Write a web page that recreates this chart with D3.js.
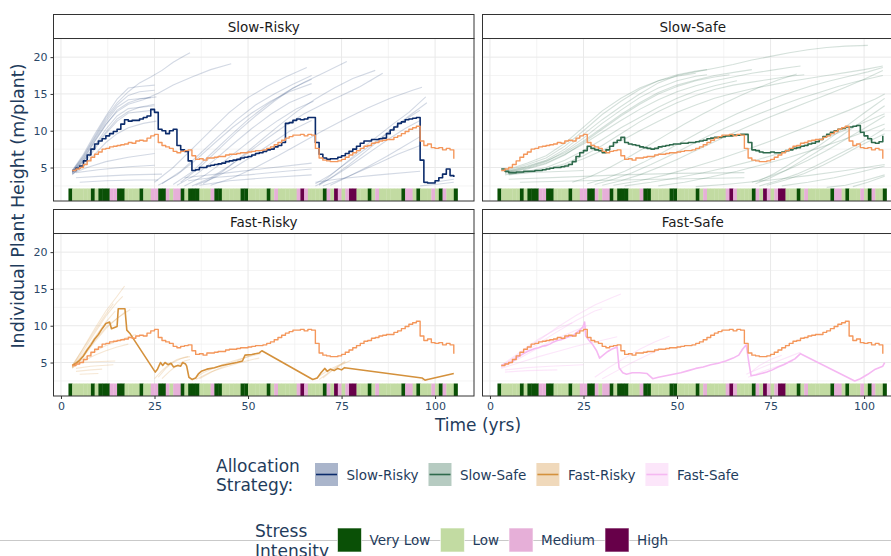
<!DOCTYPE html>
<html>
<head>
<meta charset="utf-8">
<script src="https://cdn.jsdelivr.net/npm/d3@7"></script>
<style>
  html, body { margin: 0; padding: 0; background: #ffffff; overflow: hidden; }
  text { font-family: "DejaVu Sans", "Liberation Sans", sans-serif; }
</style>
</head>
<body>
<svg id="chart" width="891" height="556"></svg>
<script>
// ---------------- data ----------------
const strategies = ["Slow-Risky", "Slow-Safe", "Fast-Risky", "Fast-Safe"];
const strategyColors = ["#0b2b6b", "#2e6a4c", "#d4913c", "#f5b8f2"];
const referenceColor = "#f4975b";

const stressLevels = ["Very Low", "Low", "Medium", "High"];
const stressColors = ["#0a5006", "#c2dba2", "#e6afd8", "#670049"];
// one stress class per year, first record in year 2 (0 = Very Low ... 3 = High)
const stressFirstYear = 2;
const stressByYear = [
  0, 1, 1, 1, 1, 1, 0, 1, 0, 0, 0, 2, 2, 0, 0, 1, 1, 1, 1, 0,
  1, 1, 2, 2, 0, 0, 2, 1, 2, 2, 0, 1, 0, 0, 0, 1, 1, 1, 2, 0,
  0, 1, 1, 1, 1, 1, 0, 0, 1, 1, 1, 1, 1, 0, 1, 2, 1, 1, 1, 1,
  1, 2, 3, 2, 1, 1, 1, 1, 0, 2, 1, 3, 2, 1, 2, 3, 3, 1, 1, 1,
  0, 1, 2, 1, 1, 1, 1, 1, 1, 0, 2, 2, 1, 0, 1, 1, 1, 2, 1, 0,
  2, 1, 1, 0
];

// yearly series start at year 3 and end at year 105
const firstYear = 3;
const referenceHeight = [
  4.6, 4.8, 5.0, 5.4, 5.9, 6.4, 6.8, 7.1, 7.5, 7.6, 7.8, 7.9, 8.0, 8.1, 8.2, 8.4, 8.3, 8.6, 8.7, 8.6,
  9.0, 9.3, 9.5, 8.4, 8.0, 7.8, 7.6, 7.2, 7.0, 7.2, 7.3, 7.4, 6.6, 6.1, 6.2, 6.0, 6.3, 6.3, 6.4, 6.5,
  6.5, 6.7, 6.8, 6.8, 6.9, 7.0, 7.0, 7.1, 7.2, 7.3, 7.3, 7.4, 7.6, 7.8, 8.1, 8.4, 8.7, 9.0, 9.2, 9.4,
  9.4, 9.5, 9.3, 9.5, 9.4, 7.6, 6.3, 6.0, 5.9, 5.8, 5.8, 5.9, 6.1, 6.4, 6.7, 7.0, 7.3, 7.6, 7.9, 8.0,
  8.3, 8.4, 8.6, 8.7, 8.8, 8.8, 9.1, 9.3, 9.6, 9.9, 10.2, 10.4, 10.6, 8.6, 8.0, 8.2, 7.7, 7.6, 7.7, 7.4,
  7.6, 7.4, 6.2
];
const slowRiskyMean = [
  4.6, 4.9, 5.2, 5.9, 6.7, 7.5, 8.2, 8.6, 8.9, 9.3, 9.6, 9.9, 10.2, 10.9, 11.5, 11.3, 11.4, 11.4, 11.6, 11.8,
  12.0, 12.9, 12.5, 10.2, 10.0, 9.6, 10.0, 10.2, 8.0, 7.4, 7.2, 5.9, 4.6, 4.7, 5.0, 5.0, 5.2, 5.3, 5.4, 5.5,
  5.6, 5.8, 5.9, 6.0, 6.1, 6.3, 6.4, 6.5, 6.7, 6.9, 7.0, 7.2, 7.4, 7.5, 7.8, 8.0, 8.4, 11.0, 11.1, 11.4,
  11.6, 11.5, 11.6, 11.8, 11.8, 8.4, 6.8, 6.3, 6.1, 6.2, 6.2, 6.4, 6.6, 6.9, 7.2, 7.5, 7.9, 8.3, 8.6, 8.6,
  8.8, 8.8, 8.9, 9.0, 9.6, 10.1, 10.5, 11.0, 11.2, 11.5, 11.6, 11.7, 11.8, 6.0, 3.0, 2.9, 2.9, 3.2, 3.6, 4.1,
  4.8, 3.9, 3.7
];
const slowSafeMean = [
  4.8, 4.5, 4.3, 4.3, 4.4, 4.4, 4.5, 4.5, 4.5, 4.6, 4.6, 4.7, 4.8, 4.9, 5.0, 5.0, 5.1, 5.2, 5.4, 5.8,
  6.5, 7.0, 7.3, 7.9, 7.6, 7.4, 7.3, 7.0, 7.4, 7.9, 8.4, 8.7, 9.1, 8.4, 8.2, 8.1, 8.0, 7.8, 7.7, 7.6,
  7.5, 7.6, 7.8, 7.9, 8.0, 8.1, 8.2, 8.2, 8.3, 8.3, 8.4, 8.4, 8.5, 8.6, 8.7, 8.9, 9.0, 9.1, 9.1, 9.2,
  9.3, 9.3, 9.4, 9.4, 9.5, 9.5, 8.4, 7.4, 7.3, 7.1, 7.0, 7.0, 7.1, 7.0, 7.0, 7.1, 7.3, 7.4, 7.6, 7.7,
  7.9, 8.0, 8.2, 8.3, 8.5, 8.8, 9.2, 9.5, 9.8, 10.0, 10.2, 10.3, 10.5, 10.5, 10.6, 10.7, 9.8, 9.3, 8.9, 8.4,
  8.3, 8.5, 9.3
];
// fast strategies: [year, height] records (long gaps where few plants are alive)
const fastRiskyMean = [
  [3,4.6],[4,4.9],[5,5.3],[6,5.9],[7,6.7],[8,7.4],[9,8.2],[10,8.8],[11,9.6],[12,10.3],[13,10.5],[13.5,9.6],
  [14.5,9.8],[15,9.9],[15.3,12.3],[17.1,12.3],[17.6,9.4],[18.5,8.9],[25.2,3.7],[25.8,4.1],[26.6,5.0],[27.2,4.6],
  [27.8,5.0],[28.6,4.7],[29.4,4.9],[30.1,4.4],[31.2,4.6],[32,4.5],[32.5,5.0],[33.3,4.8],[33.6,4.5],[34.2,3.0],
  [35,2.7],[36,2.9],[36.8,3.5],[37.5,3.8],[39,4.1],[41,4.3],[43,4.6],[45,4.8],[47,5.0],[48.5,5.2],[49.2,6.0],
  [51,6.1],[53,6.3],[53.7,6.6],[67.3,2.7],[68.5,2.9],[69.5,3.6],[70.5,4.2],[71.2,3.8],[72,4.1],[73,3.9],
  [74,4.2],[75,4.0],[75.8,4.3],[96.5,2.9],[97.3,2.6],[98,2.7],[105,3.5]
];
const fastSafeMean = [
  [3,4.6],[4,4.8],[5,4.9],[6,5.1],[7,5.6],[8,5.9],[9,6.2],[10,6.5],[11,6.7],[12,6.9],[13,7.0],[14,7.2],
  [15,7.3],[16,7.5],[17,7.8],[18,8.0],[19,8.1],[20,8.3],[21,8.5],[22,8.6],[23,9.0],[24,9.4],[24.8,9.8],
  [25.3,10.5],[25.6,8.6],[26.5,8.0],[27.5,7.4],[28.5,6.6],[29.3,5.6],[30.5,6.1],[31.5,6.5],[32.5,6.8],
  [34,7.1],[34.5,4.3],[35.5,3.6],[36.5,3.4],[38,3.6],[40,3.6],[42,3.5],[43.5,2.8],[45,3.0],[47,3.2],
  [49,3.4],[51,3.6],[53,3.9],[55,4.2],[57,4.4],[59,4.7],[61,4.9],[63,5.2],[65,5.6],[66.5,6.0],[67.5,6.8],
  [68.5,7.4],[69.2,5.0],[69.8,3.2],[71,3.3],[72.5,3.5],[74,3.7],[75.5,4.0],[77,4.4],[78.5,4.7],[80,5.1],
  [81.5,5.5],[83,6.2],[97.5,2.5],[99,2.8],[101,3.4],[103,4.1],[105,4.5],[105.5,5.0]
];

// individual plant trajectories, [year, height]
const slowRiskyPlants = [
  [[3,4.5],[6,6.5],[9,9.0],[12,11.5],[15,13.5],[18,14.8],[21,15.3],[25,15.5]],
  [[3,4.3],[6,6.0],[9,8.5],[12,10.8],[15,12.8],[18,13.8],[21,14.3],[25.5,14.6]],
  [[3,4.4],[6,6.3],[9,8.8],[12,11.2],[15,13.2],[18,14.2],[24,14.5]],
  [[3,4.2],[6,5.8],[9,8.0],[12,10.2],[15,12.0],[18,13.0],[25,13.4]],
  [[3,4.6],[6,6.8],[9,9.5],[12,12.0],[15,14.3],[18,15.8],[21,16.0],[25,16.2]],
  [[3,4.0],[6,5.5],[9,7.5],[12,9.6],[15,11.3],[18,12.4],[25,12.8]],
  [[3,4.5],[6,6.6],[9,9.2],[12,11.8],[15,13.8],[18,15.3],[21,16.5],[24,17.3],[27,18.2],[30,19.3],[33,20.2],[34.5,20.6]],
  [[3,4.3],[6,6.2],[9,8.6],[12,10.9],[15,12.6],[18,13.6],[22,14.2],[26,15.1],[30,16.2],[35,17.3],[40,18.3],[45.5,19.1]],
  [[3,4.1],[6,5.2],[9,6.8],[12,8.4],[15,9.6],[18,10.4],[22,11.0],[25.5,11.3]],
  [[3,4.4],[6,5.9],[9,7.8],[12,9.8],[15,11.6],[18,12.6],[21,13.2],[25,13.6]],
  [[3,4.2],[7,5.0],[12,5.8],[18,6.4],[25,6.9]],
  [[4,3.6],[10,3.8],[18,4.0],[27,4.1]],
  [[5,3.0],[12,3.2],[20,3.3],[26,3.3]],
  [[4,4.3],[10,4.7],[18,5.1],[25,5.3]],
  [[25,3.0],[30,5.0],[35,7.5],[40,10.0],[45,12.5],[50,14.5],[55,16.0],[60,17.3],[65.7,18.6]],
  [[27,2.8],[32,4.5],[37,6.8],[42,9.2],[47,11.5],[52,13.5],[57,15.0],[62,16.3],[67,17.5]],
  [[26,2.6],[31,4.0],[36,6.0],[41,8.3],[46,10.5],[51,12.4],[56,14.0],[61,15.3],[67,16.4]],
  [[30,2.7],[35,4.4],[40,6.8],[45,9.2],[50,11.5],[55,13.5],[60,15.2],[65,16.6],[70,17.8],[76.4,19.4]],
  [[31,2.6],[36,4.0],[41,6.0],[46,8.2],[51,10.3],[56,12.2],[61,13.8],[67,15.1]],
  [[33,2.5],[38,3.8],[43,5.6],[48,7.6],[53,9.6],[58,11.4],[63,13.0],[67.5,14.0]],
  [[35,2.5],[40,3.6],[45,5.2],[50,7.0],[55,8.9],[60,10.7],[65,12.3],[70,13.6],[75,14.8],[80,16.0],[86,17.8]],
  [[36,2.6],[41,3.6],[46,4.9],[51,6.5],[56,8.2],[61,9.9],[67,11.4]],
  [[34,3.2],[40,3.6],[50,4.0],[60,4.5],[67,4.8]],
  [[33,3.6],[45,4.3],[55,4.9],[67,5.6]],
  [[37,2.6],[45,3.2],[55,3.6],[67,4.0]],
  [[32,3.0],[37,5.0],[42,7.4],[47,9.8],[52,12.0],[57,14.0],[62,15.8],[67,17.0]],
  [[38,2.8],[43,4.4],[48,6.4],[53,8.5],[58,10.6],[63,12.6],[68,14.3],[73,15.8],[78,17.1],[84,18.2]],
  [[40,2.6],[46,3.6],[52,5.0],[58,6.6],[64,8.3],[70,10.0],[76,11.6],[82,13.1],[88,14.4],[94,15.5],[96.5,15.9]],
  [[68,2.8],[72,4.0],[76,5.5],[80,7.0],[84,8.5],[88,10.0],[92,11.5],[96,12.8]],
  [[68,2.5],[72,3.5],[76,4.8],[80,6.2],[84,7.6],[88,9.0],[92,10.3],[96,11.4]],
  [[69,2.6],[73,3.9],[77,5.4],[81,7.0],[85,8.7],[89,10.4],[93,12.0],[97.8,13.8]],
  [[70,2.5],[75,3.4],[80,4.5],[85,5.6],[90,6.8],[96,8.0]],
  [[68,3.0],[75,3.5],[85,4.0],[96,4.5]],
  [[72,2.6],[77,3.8],[82,5.1],[87,6.5],[92,8.0],[96,9.2]],
  [[69,2.7],[73,4.3],[77,6.0],[81,7.8],[85,9.4],[89,11.0],[93,12.5],[97.5,14.6]],
  [[96,2.5],[100,2.7],[105,3.0]],
  [[97,2.8],[101,3.1],[105,3.4]]
];
const slowSafePlants = [
  [[4,4.4],[10,5.2],[15,6.0],[20,7.5],[25,9.5],[30,11.5],[35,13.3],[40,15.0],[45,16.5],[50,17.5],[55,18.0],[60,18.5],[65,19.0],[70,19.6],[75,20.1],[80,20.6],[85,21.0],[90,21.3],[95,21.5],[101,21.6]],
  [[4,4.3],[10,5.0],[15,5.8],[20,7.2],[25,9.0],[30,11.0],[35,12.8],[40,14.5],[45,15.8],[50,16.8],[55,17.4],[58,17.6]],
  [[4,4.5],[10,5.4],[15,6.3],[20,7.9],[25,10.0],[30,12.2],[35,14.0],[40,15.6],[45,16.8],[50,17.6],[55,18.1],[58,18.3]],
  [[4,4.2],[10,4.8],[15,5.5],[20,6.7],[25,8.4],[30,10.2],[35,12.0],[40,13.6],[45,15.0],[50,16.0],[55,16.8],[60,17.3],[64,17.6]],
  [[4,4.4],[10,5.1],[15,5.9],[20,7.0],[25,8.6],[30,10.4],[35,12.2],[40,13.8],[45,15.2],[50,16.2],[55,16.9],[60,17.5],[66,18.0],[70,18.3]],
  [[4,4.0],[10,4.5],[15,5.0],[20,6.0],[25,7.3],[30,8.8],[35,10.4],[40,11.8],[45,13.2],[50,14.4],[55,15.4],[60,16.1],[66,16.8]],
  [[5,4.1],[10,4.4],[15,4.8],[20,5.5],[25,6.6],[30,8.0],[35,9.6],[40,11.2],[45,12.6],[50,13.8],[55,14.8],[60,15.6],[65,16.2],[70,16.6],[75,17.0],[80,17.4],[84,17.6]],
  [[4,4.6],[10,5.6],[15,6.6],[20,8.3],[25,10.5],[30,12.7],[35,14.4],[40,15.8],[45,16.8],[50,17.4],[55,17.8]],
  [[4,4.3],[10,4.9],[15,5.6],[20,6.8],[25,8.2],[30,9.8],[35,11.4],[40,12.9],[45,14.2],[50,15.3],[55,16.1],[60,16.8],[65,17.3],[70,17.8],[75,18.2],[80,18.6],[83,18.8]],
  [[5,4.0],[10,4.3],[15,4.7],[20,5.3],[25,6.2],[30,7.3],[35,8.6],[40,10.0],[45,11.3],[50,12.5],[55,13.5],[60,14.4],[65,15.1],[70,15.7],[75,16.2],[80,16.7],[85,17.1],[90,17.5],[95,17.9],[100,18.3],[105,18.8]],
  [[22,3.0],[27,3.8],[32,5.0],[37,6.4],[42,7.9],[47,9.4],[52,10.9],[57,12.3],[62,13.6],[67,14.8],[72,15.9],[77,16.9],[82,17.7]],
  [[26,2.8],[31,3.5],[36,4.5],[41,5.7],[46,7.0],[51,8.4],[56,9.8],[61,11.1],[66,12.3],[71,13.4],[76,14.4],[81,15.3],[86,16.1],[91,16.8],[96,17.4],[101,18.0],[105,18.6]],
  [[30,2.6],[35,3.2],[40,4.0],[45,5.0],[50,6.1],[55,7.3],[60,8.5],[65,9.7],[70,10.8],[75,11.9],[80,12.9],[85,13.9],[90,14.9],[95,15.9],[100,17.0],[105,18.2]],
  [[28,2.7],[33,3.4],[38,4.3],[43,5.4],[48,6.6],[53,7.9],[58,9.2],[63,10.4],[68,11.5],[73,12.5],[78,13.5],[83,14.4],[88,15.2],[93,16.0],[98,16.7],[105,17.5]],
  [[33,2.6],[40,3.2],[47,4.0],[54,5.0],[61,6.1],[68,7.3],[75,8.6],[82,10.0],[89,11.4],[96,12.8],[103,14.3],[105.5,15.0]],
  [[36,2.5],[43,3.0],[50,3.6],[57,4.3],[64,5.1],[71,6.0],[78,7.0],[85,8.2],[92,9.5],[99,10.9],[105.5,12.3]],
  [[45,2.5],[52,3.0],[59,3.7],[66,4.5],[73,5.4],[80,6.4],[87,7.5],[94,8.7],[101,10.0],[105.5,10.9]],
  [[55,2.4],[65,2.8],[75,3.3],[85,3.9],[95,4.6],[105.5,5.4]],
  [[5,3.4],[20,3.7],[35,4.0],[50,4.2],[68,4.3]],
  [[8,3.0],[25,3.2],[45,3.4],[68,3.6]],
  [[5,4.2],[15,4.4],[25,4.6]],
  [[72,2.5],[77,3.2],[82,4.1],[87,5.2],[92,6.5],[97,7.8],[102,9.2],[105.5,10.3]],
  [[74,2.6],[79,3.3],[84,4.2],[89,5.3],[94,6.6],[99,8.0],[105.5,9.6]],
  [[70,3.0],[75,3.8],[80,4.8],[85,6.0],[90,7.3],[95,8.8],[100,10.3],[105.5,12.0]],
  [[72,3.2],[76,4.2],[80,5.4],[84,6.7],[88,8.0],[92,9.4],[96,10.9],[100,12.4],[103,13.5],[105.5,14.4]],
  [[71,2.8],[75,3.6],[79,4.6],[83,5.8],[87,7.0],[91,8.3],[95,9.7],[99,11.1],[103,12.5],[105.5,13.4]],
  [[78,2.5],[85,3.0],[92,3.6],[99,4.4],[105.5,5.2]],
  [[90,2.3],[95,2.6],[100,3.2],[105.5,4.0]],
  [[97,2.4],[101,3.0],[105.5,3.8]]
];
const fastRiskyPlants = [
  [[3,4.5],[6,7.0],[9,9.6],[12,12.0],[15,14.0],[17,15.4]],
  [[3,4.4],[6,6.6],[9,9.0],[12,11.3],[15,13.2],[16.5,14.0]],
  [[3,4.3],[6,6.2],[9,8.4],[12,10.5],[14.5,12.0]],
  [[3,4.6],[6,6.9],[9,9.3],[12,11.6],[14,13.0]],
  [[3,4.2],[6,5.8],[9,7.8],[12,9.6],[15,11.0],[17.5,12.0]],
  [[3,4.4],[6,6.0],[9,8.0],[12,9.8],[15,11.0],[18.5,12.2]],
  [[3,4.5],[6,5.5],[9,6.5],[12,7.3],[15,7.9],[18,8.5],[20,8.8]],
  [[3,4.3],[6,5.2],[9,6.0],[12,6.6],[15,7.1],[18,7.5]],
  [[4,4.2],[8,4.5],[14,4.7]],
  [[4,3.8],[8,4.0],[11,4.1]],
  [[4,5.0],[9,5.1],[14.5,5.2]],
  [[5,3.4],[10,3.5]],
  [[25,2.8],[27,3.9],[29,4.8],[31,5.4],[33,5.7],[34.5,5.8]],
  [[26,3.0],[28,4.2],[30,5.0],[32,5.5],[34,5.8]],
  [[27,2.8],[29,3.8],[31,4.6],[33,5.2],[34.5,5.4]],
  [[35,2.6],[38,3.6],[42,4.5],[46,5.2],[50,5.8],[53.5,6.2]],
  [[36,2.7],[40,3.7],[44,4.4],[48,5.0],[52,5.5],[53,5.6]],
  [[37,2.8],[41,3.9],[45,4.8],[49,5.6],[51,6.0]],
  [[68,2.8],[71,3.8],[74,4.6],[76,5.0]],
  [[69,2.7],[72,3.8],[75,4.7],[77.5,5.3]],
  [[70,2.9],[73,4.1],[76,5.2]],
  [[96.5,2.6],[98,2.8]]
];
const fastSafePlants = [
  [[3,4.5],[8,6.2],[13,8.0],[18,9.8],[23,11.4],[28,12.8],[33,13.9],[35,14.3]],
  [[3,4.4],[8,6.0],[13,7.6],[18,9.2],[23,10.7],[28,12.0],[30,12.3]],
  [[3,4.6],[8,6.4],[13,8.2],[18,9.6],[22,10.4]],
  [[3,4.3],[8,5.6],[13,7.0],[18,8.3],[23,9.4],[26,10.0]],
  [[3,4.2],[8,5.0],[13,5.8],[18,6.5],[23,7.2],[28,7.8],[34,8.5]],
  [[4,4.0],[10,4.3],[16,4.5],[25,4.7]],
  [[4,3.7],[10,3.9],[18,4.0]],
  [[28,3.0],[32,4.4],[36,5.6],[40,6.8],[44,7.8],[48,8.6]],
  [[30,2.8],[34,3.9],[38,5.0],[42,6.0],[46,6.9]],
  [[68.5,3.4],[72,4.2],[76,5.0],[80,5.8],[83,6.4]],
  [[69,3.0],[73,3.8],[77,4.5],[81,5.2]],
  [[69.5,3.6],[72,4.6],[75,5.4],[78,6.0]]
];

const xTicks = [0, 25, 50, 75, 100];
const xMinorTicks = [12.5, 37.5, 62.5, 87.5];
const yTicks = [5, 10, 15, 20];
const yMinorTicks = [2.5, 7.5, 12.5, 17.5, 22.5];
const stressBandTop = 2.15;

// ---------------- drawing ----------------
const svg = d3.select("#chart");
const textDark = "#1f3c5c";
const tickText = "#2a4868";

const panelLeft = [53.5, 482.5];
const panelWidth = 420.5;
const rowTop = [14, 209];
const stripHeight = 24;
const panelHeight = 163;

const toPairs = arr => arr.map((v, i) => [firstYear + i, v]);
const meanSeries = [
  { pts: toPairs(slowRiskyMean), curve: d3.curveStepAfter },
  { pts: toPairs(slowSafeMean), curve: d3.curveStepAfter },
  { pts: fastRiskyMean, curve: d3.curveLinear },
  { pts: fastSafeMean, curve: d3.curveLinear }
];
const plantSets = [slowRiskyPlants, slowSafePlants, fastRiskyPlants, fastSafePlants];
const plantOpacity = [0.18, 0.2, 0.22, 0.35];
const referencePts = toPairs(referenceHeight);

strategies.forEach((name, i) => {
  const col = i % 2, row = Math.floor(i / 2);
  const x0 = panelLeft[col], top = rowTop[row];
  const y0 = top + stripHeight;
  const x = d3.scaleLinear().domain([-2.0, 110.4]).range([x0, x0 + panelWidth]);
  const y = d3.scaleLinear().domain([0.45, 22.6]).range([y0 + panelHeight, y0]);

  const g = svg.append("g");
  const clipId = "clip" + i;
  g.append("clipPath").attr("id", clipId)
    .append("rect").attr("x", x0).attr("y", y0).attr("width", panelWidth).attr("height", panelHeight);

  const body = g.append("g").attr("clip-path", `url(#${clipId})`);
  body.append("rect").attr("x", x0).attr("y", y0).attr("width", panelWidth).attr("height", panelHeight).attr("fill", "#fff");

  // grid
  body.selectAll(".gxm").data(xMinorTicks).join("line")
    .attr("x1", d => x(d)).attr("x2", d => x(d)).attr("y1", y0).attr("y2", y0 + panelHeight)
    .attr("stroke", "#efefef").attr("stroke-width", 0.7);
  body.selectAll(".gym").data(yMinorTicks).join("line")
    .attr("y1", d => y(d)).attr("y2", d => y(d)).attr("x1", x0).attr("x2", x0 + panelWidth)
    .attr("stroke", "#efefef").attr("stroke-width", 0.7);
  body.selectAll(".gx").data(xTicks).join("line")
    .attr("x1", d => x(d)).attr("x2", d => x(d)).attr("y1", y0).attr("y2", y0 + panelHeight)
    .attr("stroke", "#e9e9e9").attr("stroke-width", 1);
  body.selectAll(".gy").data(yTicks).join("line")
    .attr("y1", d => y(d)).attr("y2", d => y(d)).attr("x1", x0).attr("x2", x0 + panelWidth)
    .attr("stroke", "#e9e9e9").attr("stroke-width", 1);

  // stress intensity band
  body.selectAll(".stress").data(stressByYear).join("rect")
    .attr("x", (d, k) => x(stressFirstYear + k))
    .attr("width", (d, k) => x(stressFirstYear + k + 1) - x(stressFirstYear + k) + 0.3)
    .attr("y", y(stressBandTop))
    .attr("height", y0 + panelHeight - y(stressBandTop))
    .attr("fill", d => stressColors[d]);

  const line = d3.line().x(d => x(d[0])).y(d => y(d[1]));

  // individual plants
  body.selectAll(".plant").data(plantSets[i]).join("path")
    .attr("d", d => line.curve(d3.curveLinear)(d))
    .attr("fill", "none")
    .attr("stroke", strategyColors[i])
    .attr("stroke-opacity", plantOpacity[i])
    .attr("stroke-width", 1.1);

  // strategy mean
  body.append("path")
    .attr("d", line.curve(meanSeries[i].curve)(meanSeries[i].pts))
    .attr("fill", "none").attr("stroke", strategyColors[i])
    .attr("stroke-width", 1.6).attr("stroke-linejoin", "round");

  // reference trajectory
  body.append("path")
    .attr("d", line.curve(d3.curveStepAfter)(referencePts))
    .attr("fill", "none").attr("stroke", referenceColor)
    .attr("stroke-width", 1.4).attr("stroke-linejoin", "round");

  // panel border
  g.append("rect").attr("x", x0).attr("y", y0 + 0.5).attr("width", panelWidth).attr("height", panelHeight - 0.5)
    .attr("fill", "none").attr("stroke", "#333333").attr("stroke-width", 1);

  // strip
  g.append("rect").attr("x", x0).attr("y", top + 0.5).attr("width", panelWidth).attr("height", stripHeight)
    .attr("fill", "#ffffff").attr("stroke", "#333333").attr("stroke-width", 1);
  g.append("text").attr("x", x0 + panelWidth / 2).attr("y", top + stripHeight / 2 + 0.5)
    .attr("text-anchor", "middle").attr("dominant-baseline", "central")
    .attr("font-size", 13.5).attr("fill", "#1a1a1a").text(name);

  // axes
  if (col === 0) {
    const ax = g.append("g").attr("transform", `translate(${x0},0)`)
      .call(d3.axisLeft(y).tickValues(yTicks).tickSize(3).tickPadding(3).tickFormat(d3.format("d")));
    ax.select(".domain").remove();
    ax.selectAll(".tick line").attr("stroke", "#333333");
    ax.selectAll(".tick text").attr("font-size", 11).attr("fill", tickText)
      .attr("font-family", '"DejaVu Sans", sans-serif');
  }
  if (row === 1) {
    const ax = g.append("g").attr("transform", `translate(0,${y0 + panelHeight})`)
      .call(d3.axisBottom(x).tickValues(xTicks).tickSize(3).tickPadding(3).tickFormat(d3.format("d")));
    ax.select(".domain").remove();
    ax.selectAll(".tick line").attr("stroke", "#333333");
    ax.selectAll(".tick text").attr("font-size", 11).attr("fill", tickText)
      .attr("font-family", '"DejaVu Sans", sans-serif');
  }
});

// axis titles
svg.append("text").attr("x", 478).attr("y", 431).attr("text-anchor", "middle")
  .attr("font-size", 17).attr("fill", textDark).text("Time (yrs)");
svg.append("text").attr("transform", "translate(24,206) rotate(-90)").attr("text-anchor", "middle")
  .attr("font-size", 17.5).attr("fill", textDark).text("Individual Plant Height (m/plant)");

// separator line behind the stress legend
svg.append("line").attr("x1", 0).attr("x2", 891).attr("y1", 540.5).attr("y2", 540.5)
  .attr("stroke", "#c9c9c9").attr("stroke-width", 1);

// legend: allocation strategy
const lg1 = svg.append("g");
lg1.append("text").attr("x", 216).attr("y", 472).attr("font-size", 17).attr("fill", textDark).text("Allocation");
lg1.append("text").attr("x", 216).attr("y", 491).attr("font-size", 17).attr("fill", textDark).text("Strategy:");
let cx = 315;
strategies.forEach((name, i) => {
  lg1.append("rect").attr("x", cx).attr("y", 463).attr("width", 23).attr("height", 23)
    .attr("fill", strategyColors[i]).attr("fill-opacity", 0.35);
  lg1.append("line").attr("x1", cx + 1).attr("x2", cx + 22).attr("y1", 474.5).attr("y2", 474.5)
    .attr("stroke", strategyColors[i]).attr("stroke-width", 1.6);
  const t = lg1.append("text").attr("x", cx + 31.5).attr("y", 479.5).attr("font-size", 13.5)
    .attr("fill", textDark).text(name);
  cx += 31.5 + t.node().getComputedTextLength() + 10;
});

// legend: stress intensity
const lg2 = svg.append("g");
lg2.append("text").attr("x", 255).attr("y", 537).attr("font-size", 17).attr("fill", textDark).text("Stress");
lg2.append("text").attr("x", 255).attr("y", 557).attr("font-size", 17).attr("fill", textDark).text("Intensity");
let sx = 337.5;
stressLevels.forEach((name, i) => {
  lg2.append("rect").attr("x", sx).attr("y", 528).attr("width", 24).attr("height", 24)
    .attr("fill", stressColors[i]).attr("stroke", "#ffffff").attr("stroke-opacity", 0.6);
  const t = lg2.append("text").attr("x", sx + 32).attr("y", 545).attr("font-size", 13.5)
    .attr("fill", textDark).text(name);
  sx += 32 + t.node().getComputedTextLength() + 10;
});
</script>
</body>
</html>
